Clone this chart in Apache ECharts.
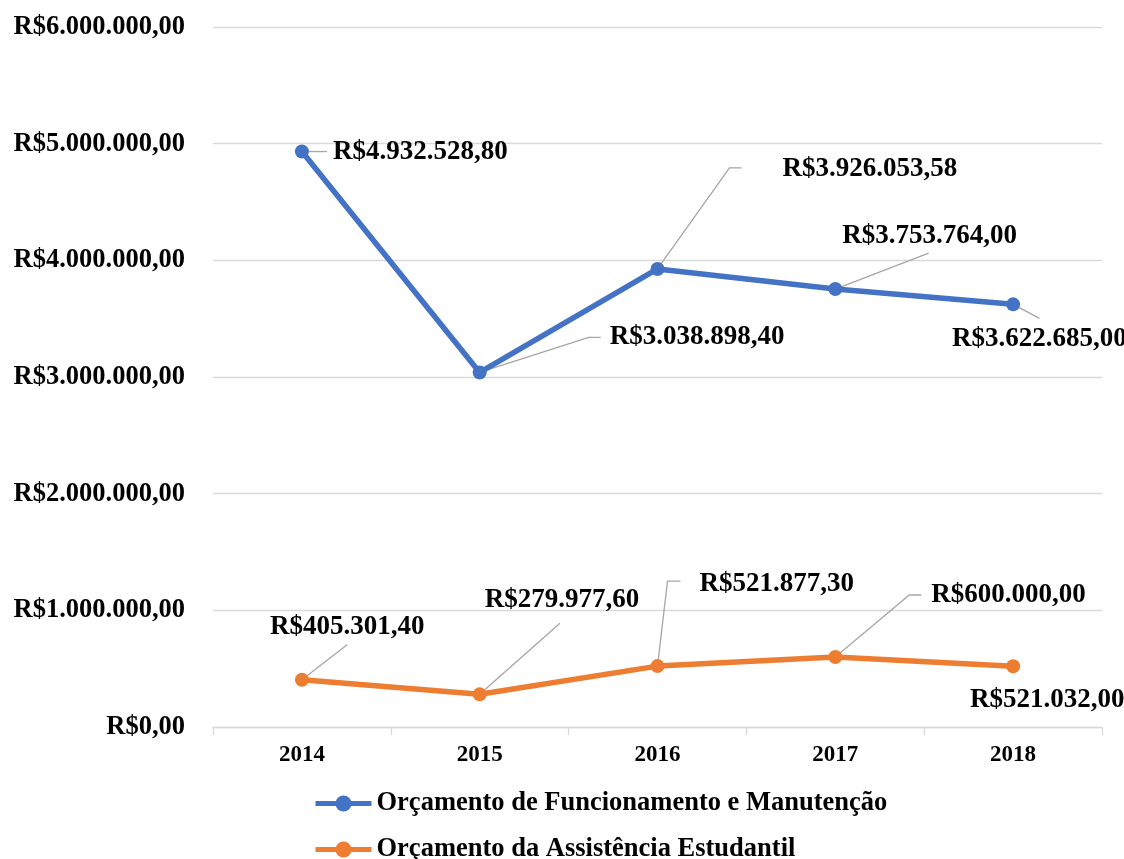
<!DOCTYPE html>
<html>
<head>
<meta charset="utf-8">
<script src="https://cdn.jsdelivr.net/npm/echarts@6/dist/echarts.min.js"></script>
<style>
  html, body { margin: 0; padding: 0; background: #fff; }
  #chart { width: 1124px; height: 859px; }
</style>
</head>
<body>
<div id="chart"></div>
<script>
var years = ['2014', '2015', '2016', '2017', '2018'];
var funcionamento = [4932528.80, 3038898.40, 3926053.58, 3753764.00, 3622685.00];
var assistencia = [405301.40, 279977.60, 521877.30, 600000.00, 521032.00];
var seriesNames = ['Orçamento de Funcionamento e Manutenção', 'Orçamento da Assistência Estudantil'];

// label offsets (dx, dy) from the default 'right' position, per series / point
var labelShift = [
    [[19, 0], [118, -35], [113, -100], [-5, -53], [-73, 35]],
    [[-44, -53], [-7, -94], [30, -82], [84, -62], [-55, 34]]
];
// leader line end: [fx, fy, ox, oy, elbow] relative to the label box
var leader = [
    [[0, 0.5, -6, 0, 0], [0, 0.5, -9, 0, 12], [0, 0.5, -41, -1, 12], [0.5, 0.5, -1, 17, 0], [0.5, 0.5, 0, -21, 0]],
    [[0.5, 0.5, 0, 18, 0], [0.5, 0.5, -2, 23, 0], [0, 0.5, -19, -3, 13], [0, 0.5, -10, 0, 12], null]
];

function brl(v) {
    var parts = v.toFixed(2).split('.');
    var int = parts[0].replace(/\B(?=(\d{3})+(?!\d))/g, '.');
    return 'R$' + int + ',' + parts[1];
}

var font = '"Liberation Serif", "Times New Roman", serif';
var chart = echarts.init(document.getElementById('chart'));
var geo = [[], []];

function mkSeries(i, data, color) {
    return {
        name: seriesNames[i],
        type: 'line',
        data: data,
        symbol: 'circle',
        symbolSize: 14,
        lineStyle: { width: 5.5, color: color },
        itemStyle: { color: color },
        z: 3,
        label: {
            show: true,
            position: 'right',
            distance: 5,
            color: '#000',
            fontFamily: font,
            fontWeight: 'bold',
            fontSize: 27,
            formatter: function (p) { return brl(p.value); }
        },
        labelLayout: function (p) {
            var s = labelShift[i][p.dataIndex];
            geo[i][p.dataIndex] = { rect: p.rect, label: p.labelRect, s: s };
            return { dx: s[0], dy: s[1] };
        },
        emphasis: { disabled: true },
        animation: false
    };
}

function mkLegend(i, top) {
    return {
        data: [seriesNames[i]],
        left: 313,
        top: top,
        padding: 0,
        itemWidth: 56,
        itemHeight: 20,
        lineStyle: { width: 5 },
        textStyle: { fontFamily: font, fontWeight: 'bold', fontSize: 26.5, color: '#000' }
    };
}

chart.setOption({
    backgroundColor: '#fff',
    animation: false,
    grid: { left: 213, right: 22, top: 27, bottom: 132 },
    legend: [mkLegend(0, 790), mkLegend(1, 836)],
    xAxis: {
        type: 'category',
        data: years,
        boundaryGap: true,
        axisLine: { lineStyle: { color: '#D9D9D9', width: 1.3 } },
        axisTick: { show: true, length: 8, lineStyle: { color: '#D9D9D9', width: 1.3 } },
        axisLabel: { color: '#000', fontFamily: font, fontWeight: 'bold', fontSize: 23, margin: 17 }
    },
    yAxis: {
        type: 'value',
        min: 0,
        max: 6000000,
        interval: 1000000,
        axisLine: { show: false },
        axisTick: { show: false },
        splitLine: { lineStyle: { color: '#D9D9D9', width: 1.3 } },
        axisLabel: {
            color: '#000', fontFamily: font, fontWeight: 'bold', fontSize: 26.5, margin: 28,
            formatter: function (v) { return brl(v); }
        }
    },
    series: [
        mkSeries(0, funcionamento, '#4472C4'),
        mkSeries(1, assistencia, '#ED7D31')
    ]
});

// leader lines, built from the label boxes that the label layout reported
var lines = [];
[0, 1].forEach(function (i) {
    geo[i].forEach(function (g, k) {
        var l = leader[i][k];
        if (!g || !l) return;
        var px = g.rect.x + g.rect.width / 2, py = g.rect.y + g.rect.height / 2;
        var ex = g.label.x + g.s[0] + g.label.width * l[0] + l[2];
        var ey = g.label.y + g.s[1] + g.label.height * l[1] + l[3];
        var pts = l[4] ? [[px, py], [ex - l[4], ey], [ex, ey]] : [[px, py], [ex, ey]];
        lines.push({
            type: 'polyline',
            z: 2,
            shape: { points: pts },
            style: { stroke: '#A6A6A6', lineWidth: 1.3, fill: null }
        });
    });
});
chart.setOption({ graphic: lines });
</script>
</body>
</html>
